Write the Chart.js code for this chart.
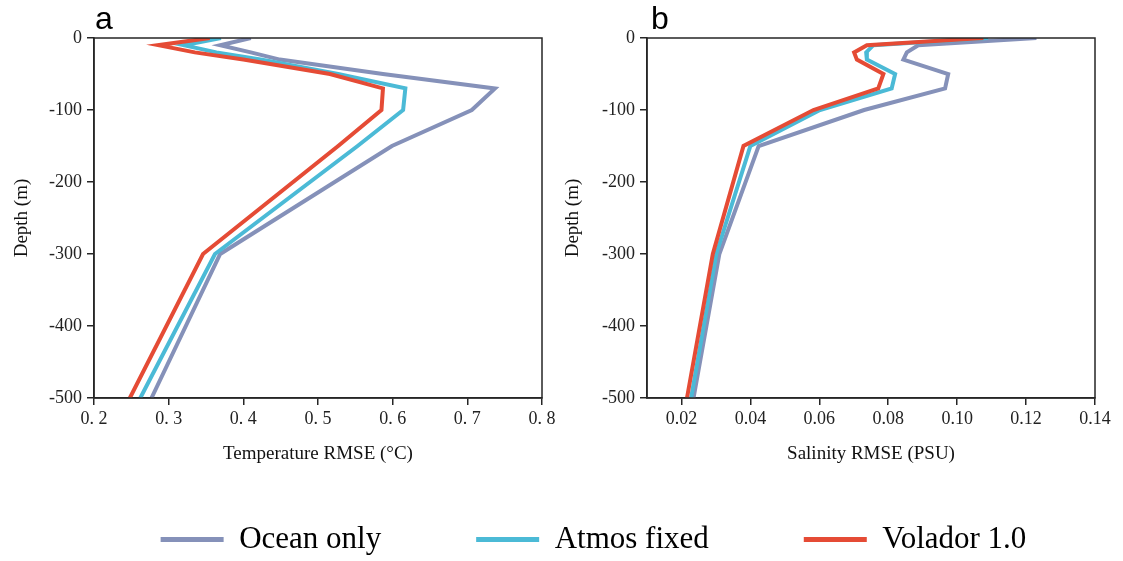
<!DOCTYPE html>
<html><head><meta charset="utf-8">
<script src="https://cdn.jsdelivr.net/npm/chart.js@4.4.1/dist/chart.umd.min.js"></script>
<style>
html,body{margin:0;padding:0;background:#fff;width:1123px;height:561px;overflow:hidden;position:relative}
.c{position:absolute}
</style></head><body>
<div class="c" style="left:49px;top:429px"><canvas id="cl" width="1089" height="320"></canvas></div>
<div class="c" style="left:0;top:0"><canvas id="ca" width="560" height="475"></canvas></div>
<div class="c" style="left:560px;top:0"><canvas id="cb" width="563" height="475"></canvas></div>
<script>
// ---- data ----
const depths = [0, -10, -20, -30, -50, -70, -100, -150, -300, -500];
const seriesNames = ["Ocean only", "Atmos fixed", "Volador 1.0"];
const tempOceanOnly  = [0.410, 0.369, 0.410, 0.449, 0.587, 0.737, 0.706, 0.599, 0.369, 0.277];
const tempAtmosFixed = [0.370, 0.320, 0.364, 0.425, 0.527, 0.617, 0.614, 0.553, 0.362, 0.262];
const tempVolador    = [0.355, 0.286, 0.335, 0.400, 0.516, 0.587, 0.585, 0.527, 0.346, 0.248];
const salOceanOnly   = [0.1230, 0.0887, 0.0854, 0.0844, 0.0974, 0.0965, 0.0730, 0.0424, 0.0310, 0.0235];
const salAtmosFixed  = [0.1090, 0.0757, 0.0736, 0.0738, 0.0820, 0.0810, 0.0602, 0.0400, 0.0301, 0.0228];
const salVolador     = [0.1076, 0.0738, 0.0701, 0.0709, 0.0786, 0.0771, 0.0583, 0.0380, 0.0291, 0.0216];
const depthTicks = [0, -100, -200, -300, -400, -500];
const tempTicks = [0.2, 0.3, 0.4, 0.5, 0.6, 0.7, 0.8];
const tempTickLabels = ["0. 2", "0. 3", "0. 4", "0. 5", "0. 6", "0. 7", "0. 8"];
const salTicks = [0.02, 0.04, 0.06, 0.08, 0.10, 0.12, 0.14];
const salTickLabels = ["0.02", "0.04", "0.06", "0.08", "0.10", "0.12", "0.14"];

// ---- styles ----
const colors = ["#8591B9", "#4BBAD6", "#E54B35"];
const SERIF = "'Liberation Serif', 'Times New Roman', serif";
const AX = "#262626";

function pts(vals) { return vals.map((v, i) => ({ x: v, y: depths[i] })); }

const frame = {
  id: 'frame',
  afterDraw(c) {
    const { ctx, chartArea: a } = c;
    ctx.save(); ctx.strokeStyle = AX; ctx.lineWidth = 1.5;
    ctx.strokeRect(a.left, a.top, a.right - a.left, a.bottom - a.top);
    const L = c.options.plugins.panelLetter;
    ctx.fillStyle = '#000'; ctx.font = "32px 'Liberation Sans', Arial, sans-serif";
    ctx.textBaseline = 'alphabetic'; ctx.textAlign = 'left';
    ctx.fillText(L.text, a.left + L.dx, 29);
    ctx.restore();
  }
};

function makePanel(id, vals, xmin, xmax, ticks, labels, xTitle, yW, padR, letter, dx, yTitlePad) {
  const ds = [2, 1, 0].map(k => ({
    label: seriesNames[k], data: pts(vals[k]), borderColor: colors[k], backgroundColor: colors[k],
    borderWidth: 4, pointRadius: 0, tension: 0, fill: false
  }));
  return new Chart(document.getElementById(id), {
    type: 'line',
    data: { datasets: ds },
    plugins: [frame],
    options: {
      responsive: false, animation: false, devicePixelRatio: 1,
      layout: { padding: { top: 38, right: padR, left: 0, bottom: 0 } },
      plugins: { legend: { display: false }, tooltip: { enabled: false }, panelLetter: { text: letter, dx: dx } },
      scales: {
        x: {
          type: 'linear', min: xmin, max: xmax,
          afterBuildTicks: s => { s.ticks = ticks.map(v => ({ value: v })); },
          afterFit: s => { s.height = 77; },
          ticks: { callback: (v, i) => labels[i], font: { family: SERIF, size: 18 }, color: '#222', padding: 3, maxRotation: 0, autoSkip: false },
          grid: { drawOnChartArea: false, drawTicks: true, tickLength: 7, color: AX, lineWidth: 1.5 },
          border: { display: true, color: AX, width: 1.5 },
          title: { display: true, text: xTitle, font: { family: SERIF, size: 19 }, color: '#111', padding: { top: 0, bottom: 10 } }
        },
        y: {
          type: 'linear', min: -500, max: 0,
          afterBuildTicks: s => { s.ticks = depthTicks.map(v => ({ value: v })); },
          afterFit: s => { s.width = yW; },
          ticks: { callback: v => String(v), font: { family: SERIF, size: 18 }, color: '#222', padding: 5 },
          grid: { drawOnChartArea: false, drawTicks: true, tickLength: 7, color: AX, lineWidth: 1.5 },
          border: { display: true, color: AX, width: 1.5 },
          title: { display: true, text: 'Depth (m)', font: { family: SERIF, size: 19 }, color: '#111', padding: { top: yTitlePad, bottom: 0 } }
        }
      }
    }
  });
}

makePanel('ca', [tempOceanOnly, tempAtmosFixed, tempVolador], 0.2, 0.8, tempTicks, tempTickLabels,
  'Temperature RMSE (°C)', 94, 18, 'a', 1, 11);
makePanel('cb', [salOceanOnly, salAtmosFixed, salVolador], 0.01, 0.14, salTicks, salTickLabels,
  'Salinity RMSE (PSU)', 87, 28, 'b', 4, 2);

// legend-only chart
new Chart(document.getElementById('cl'), {
  type: 'line',
  data: { datasets: [0, 1, 2].map(k => ({ label: seriesNames[k], data: [], borderColor: colors[k], backgroundColor: colors[k], borderWidth: 0 })) },
  options: {
    responsive: false, animation: false, devicePixelRatio: 1,
    layout: { padding: 0 },
    scales: { x: { display: false }, y: { display: false } },
    plugins: {
      tooltip: { enabled: false },
      legend: {
        display: true, position: 'top',
        labels: {
          boxWidth: 63, boxHeight: 5, padding: 95, color: '#111',
          font: { family: SERIF, size: 31 },
          generateLabels: c => c.data.datasets.map((d, i) => ({ text: d.label, fillStyle: d.backgroundColor, strokeStyle: d.backgroundColor, lineWidth: 0, datasetIndex: i, hidden: false }))
        }
      }
    }
  }
});
</script>
</body></html>
